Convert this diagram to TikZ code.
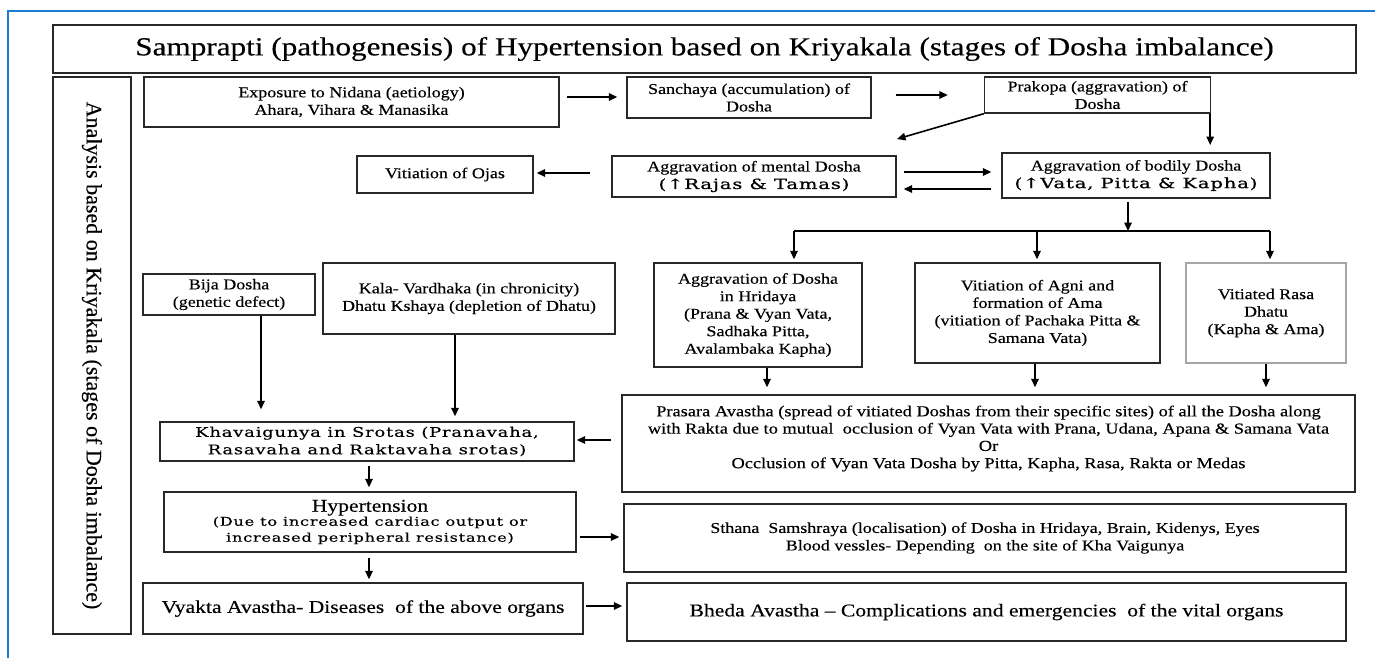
\documentclass[tikz,border=0pt]{standalone}
\usepackage{fontspec}
\setmainfont[FakeStretch=1.2,FakeBold=0.3]{Liberation Serif}
\newfontfamily\widefont[FakeStretch=1.35,LetterSpace=6,FakeBold=0.4]{DejaVu Serif}
\newfontfamily\widebfont[FakeStretch=1.4,LetterSpace=6,FakeBold=0.9]{DejaVu Serif}
\newfontfamily\rotfont[FakeBold=0.3]{Liberation Serif}
\usetikzlibrary{arrows.meta}
\definecolor{frameblue}{RGB}{25,125,210}
\definecolor{boxline}{RGB}{40,40,40}
\tikzset{
  box/.style={draw=boxline, line width=1.4pt, inner sep=2pt, align=center,
    font=\fontsize{15}{17.5}\selectfont},
  arr/.style={draw=black, line width=1.6pt, -{Triangle[length=8.5pt,width=7.5pt]}},
  plain/.style={draw=black, line width=1.6pt}
}
\newcommand{\wbig}{\widebfont\fontsize{14}{17}\selectfont}
\newcommand{\wsmall}{\widefont\fontsize{12}{17.5}\selectfont}
\newcommand{\wkhav}{\widefont\fontsize{13.3}{17.5}\selectfont}
\begin{document}
\begin{tikzpicture}[x=1pt,y=-1pt]
\useasboundingbox (0,0) rectangle (1375,657);
\draw[frameblue, line width=2pt] (1376,10.7) -- (8,10.7) -- (8,658);

% nodes
\node[box, minimum width=1303, minimum height=48, font=\fontsize{26}{30}\selectfont] (title) at (704.5,49)
  {Samprapti (pathogenesis) of Hypertension based on Kriyakala (stages of Dosha imbalance)};
\node[box, rotate=-90, minimum width=557, minimum height=78, font=\rotfont\fontsize{22}{24}\selectfont] (analysis) at (92,355.5)
  {Analysis based on Kriyakala (stages of Dosha imbalance)};
\node[box, minimum width=415, minimum height=50] (nidana) at (351.5,102)
  {Exposure to Nidana (aetiology)\\Ahara, Vihara \& Manasika};
\node[box, minimum width=244, minimum height=41] (sanchaya) at (749,97.5)
  {Sanchaya (accumulation) of\\Dosha};
\node[box, minimum width=226, minimum height=36] (prakopa) at (1097.5,95)
  {Prakopa (aggravation) of\\Dosha};
\node[box, minimum width=284, minimum height=41] (mental) at (754,176.5)
  {Aggravation of mental Dosha\\\wbig(↑Rajas \& Tamas)};
\node[box, minimum width=176, minimum height=37] (ojas) at (445,174.5)
  {Vitiation of Ojas};
\node[box, minimum width=268, minimum height=45] (bodily) at (1136,175.5)
  {Aggravation of bodily Dosha\\\wbig(↑Vata, Pitta \& Kapha)};
\node[box, minimum width=208, minimum height=104] (hridaya) at (758,315)
  {Aggravation of Dosha\\in Hridaya\\(Prana \& Vyan Vata,\\Sadhaka Pitta,\\Avalambaka Kapha)};
\node[box, minimum width=245, minimum height=100] (agni) at (1037.5,313)
  {Vitiation of Agni and\\formation of Ama\\(vitiation of Pachaka Pitta \&\\Samana Vata)};
\node[box, draw=gray!70, minimum width=160, minimum height=100] (rasa) at (1266,313)
  {Vitiated Rasa\\Dhatu\\(Kapha \& Ama)};
\node[box, minimum width=733, minimum height=97, font=\fontsize{15.3}{17.3}\selectfont] (prasara) at (988.5,443.5)
  {Prasara Avastha (spread of vitiated Doshas from their specific sites) of all the Dosha along\\
   with Rakta due to mutual\ \ occlusion of Vyan Vata with Prana, Udana, Apana \& Samana Vata\\
   Or\\
   Occlusion of Vyan Vata Dosha by Pitta, Kapha, Rasa, Rakta or Medas\\[-4pt]};
\node[box, minimum width=172, minimum height=41] (bija) at (229,294.5)
  {Bija Dosha\\(genetic defect)};
\node[box, minimum width=292, minimum height=71] (kala) at (469,298.5)
  {Kala- Vardhaka (in chronicity)\\Dhatu Kshaya (depletion of Dhatu)};
\node[box, minimum width=414, minimum height=39, font=\wkhav] (khav) at (367,441.5)
  {Khavaigunya in Srotas (Pranavaha,\\Rasavaha and Raktavaha srotas)};
\node[box, minimum width=412, minimum height=60, font=\fontsize{18}{16}\selectfont] (hyp) at (370,522)
  {Hypertension\\[-2pt]
   \wsmall (Due to increased cardiac output or\\\wsmall increased peripheral resistance)};
\node[box, minimum width=722, minimum height=68] (sthana) at (985,538)
  {Sthana\ \ Samshraya (localisation) of Dosha in Hridaya, Brain, Kidenys, Eyes\\
   Blood vessles- Depending\ \ on the site of Kha Vaigunya};
\node[box, minimum width=440, minimum height=51, font=\fontsize{18}{20}\selectfont] (vyakta) at (363,608.5)
  {Vyakta Avastha- Diseases\ \ of the above organs};
\node[box, minimum width=719, minimum height=58, font=\fontsize{18}{20}\selectfont] (bheda) at (986.5,612)
  {Bheda Avastha -- Complications and emergencies\ \ of the vital organs};

% free ends
\coordinate (diagtip) at (897,139);
\coordinate (split) at (1128,231);
\coordinate (b1) at (794,231);
\coordinate (b2) at (1037,231);
\coordinate (b3) at (1270,231);

% connectors
\draw[arr, shorten <=7pt, shorten >=9pt] (nidana.east |- 0,97) -- (sanchaya.west |- 0,97);
\draw[arr, shorten <=24pt, shorten >=36pt] (sanchaya.east |- 0,95) -- (prakopa.west |- 0,95);
\draw[arr] (prakopa.south west) -- (diagtip);
\draw[arr] ([xshift=-1pt]prakopa.south east) -- ([xshift=-1pt]prakopa.south east |- 0,145);
\draw[arr, shorten <=7pt, shorten >=10pt] (mental.east |- 0,172) -- (bodily.west |- 0,172);
\draw[arr, shorten <=10pt, shorten >=7pt] (bodily.west |- 0,189) -- (mental.east |- 0,189);
\draw[arr, shorten <=21pt, shorten >=3pt] (mental.west |- 0,173) -- (ojas.east |- 0,173);
\draw[arr, shorten <=3pt] (bodily.south -| split) -- (split);
\draw[plain] (b1) -- (b3);
\draw[arr, shorten >=3pt] (b1) -- (b1 |- hridaya.north);
\draw[arr, shorten >=3pt] (b2) -- (b2 |- agni.north);
\draw[arr, shorten >=3pt] (b3) -- (b3 |- rasa.north);
\draw[arr, shorten >=7pt] (hridaya.south -| 767,0) -- (767,0 |- prasara.north);
\draw[arr, shorten >=7pt] (agni.south -| 1035,0) -- (1035,0 |- prasara.north);
\draw[arr, shorten >=7pt] (rasa.south -| 1266,0) -- (1266,0 |- prasara.north);
\draw[arr, shorten >=12pt] (bija.south -| 261,0) -- (261,0 |- khav.north);
\draw[arr, shorten >=5pt] (kala.south -| 455,0) -- (455,0 |- khav.north);
\draw[arr, shorten <=10pt, shorten >=2pt] (prasara.west |- 0,440) -- (khav.east |- 0,440);
\draw[arr, shorten <=4pt, shorten >=4pt] (khav.south -| 369,0) -- (369,0 |- hyp.north);
\draw[arr, shorten <=3pt, shorten >=4pt] (hyp.east |- 0,537) -- (sthana.west |- 0,537);
\draw[arr, shorten <=5pt, shorten >=3pt] (hyp.south -| 369,0) -- (369,0 |- vyakta.north);
\draw[arr, shorten <=2pt, shorten >=4pt] (vyakta.east |- 0,606) -- (bheda.west |- 0,606);
\end{tikzpicture}
\end{document}
